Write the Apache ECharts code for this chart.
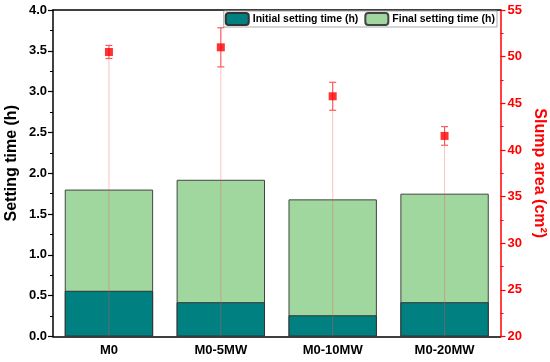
<!DOCTYPE html>
<html>
<head>
<meta charset="utf-8">
<script src="https://cdn.jsdelivr.net/npm/echarts@6/dist/echarts.min.js"></script>
<style>html,body{margin:0;padding:0;background:#fff}#c{width:550px;height:362px}</style>
</head>
<body>
<div id="c"></div>
<script>
var categories = ['M0', 'M0-5MW', 'M0-10MW', 'M0-20MW'];
var initialTime = [0.56, 0.42, 0.26, 0.42];
var finalTime = [1.80, 1.92, 1.68, 1.75];
var slumpArea = [50.5, 51.0, 45.75, 41.5];
var slumpErr = [0.7, 2.1, 1.5, 1.0];

var FONT = 'Arial, "Liberation Sans", sans-serif';
var chart = echarts.init(document.getElementById('c'));

var errData = categories.map(function (c, i) { return [i, slumpArea[i] - slumpErr[i], slumpArea[i] + slumpErr[i], slumpArea[i]]; });

chart.setOption({
  animation: false,
  grid: { left: 53, right: 49.5, top: 10, bottom: 25.5, containLabel: false, outerBoundsMode: 'none' },
  legend: {
    data: ['Initial setting time (h)', 'Final setting time (h)'],
    right: 53, top: 11,
    borderColor: '#aaa', borderWidth: 1, padding: [1, 2, 1, 1],
    itemWidth: 23, itemHeight: 12, itemGap: 6,
    textStyle: { fontFamily: FONT, fontWeight: 'bold', fontSize: 10.5, color: '#000', padding: [0, 0, 0, -1] },
    backgroundColor: '#fff'
  },
  xAxis: [{
    type: 'category', data: categories, position: 'bottom',
    axisLine: { lineStyle: { color: '#000', width: 1.5 } },
    axisTick: { alignWithLabel: true, length: 5, lineStyle: { color: '#000', width: 1.5 } },
    axisLabel: { fontFamily: FONT, fontWeight: 'bold', fontSize: 13, color: '#000', margin: 7 }
  }, {
    type: 'category', data: categories, position: 'top',
    axisLine: { lineStyle: { color: '#000', width: 1.5 } },
    axisTick: { show: false }, axisLabel: { show: false }
  }],
  yAxis: [{
    type: 'value', min: 0, max: 4, interval: 0.5, position: 'left',
    name: 'Setting time (h)', nameLocation: 'middle', nameGap: 33, nameMoveOverlap: false,
    nameTextStyle: { fontFamily: FONT, fontWeight: 'bold', fontSize: 16, color: '#000', padding: [0, 0, 0, 20] },
    axisLine: { show: true, lineStyle: { color: '#000', width: 1.5 } },
    axisTick: { show: true, length: 5, lineStyle: { color: '#000', width: 1.2 } },
    minorTick: { show: true, splitNumber: 2, length: 3, lineStyle: { color: '#000', width: 1 } },
    splitLine: { show: false },
    axisLabel: { fontFamily: FONT, fontWeight: 'bold', fontSize: 13, color: '#000', margin: 6,
      formatter: function (v) { return v.toFixed(1); } }
  }, {
    type: 'value', min: 20, max: 55, interval: 5, position: 'right',
    name: 'Slump area (cm²)', nameLocation: 'middle', nameGap: 31, nameRotate: -90, nameMoveOverlap: false,
    nameTextStyle: { fontFamily: FONT, fontWeight: 'bold', fontSize: 16, color: '#ff0000' },
    axisLine: { show: true, lineStyle: { color: '#ff0000', width: 1.5 } },
    axisTick: { show: true, length: 5, lineStyle: { color: '#ff0000', width: 1.2 } },
    minorTick: { show: true, splitNumber: 2, length: 3, lineStyle: { color: '#ff0000', width: 1 } },
    splitLine: { show: false },
    axisLabel: { fontFamily: FONT, fontWeight: 'bold', fontSize: 13, color: '#ff0000', margin: 7 }
  }],
  series: [{
    name: 'Final setting time (h)', type: 'bar', data: finalTime, barCategoryGap: '21%', barGap: '-100%',
    itemStyle: { color: '#9fd79f', borderColor: '#444', borderWidth: 1 }, z: 2
  }, {
    name: 'Initial setting time (h)', type: 'bar', data: initialTime, barCategoryGap: '21%', barGap: '-100%',
    itemStyle: { color: '#008080', borderColor: '#333', borderWidth: 1 }, z: 3
  }, {
    name: 'drop', type: 'custom', yAxisIndex: 1, data: errData, z: 4,
    renderItem: function (params, api) {
      var x = api.value(0);
      var lo = api.coord([x, api.value(1)]);
      var hi = api.coord([x, api.value(2)]);
      var base = api.coord([x, 20]);
      var w = 3.5;
      return {
        type: 'group', children: [
          { type: 'line', shape: { x1: lo[0], y1: lo[1], x2: base[0], y2: base[1] }, style: { stroke: 'rgba(255,80,80,0.35)', lineWidth: 1 } },
          { type: 'line', shape: { x1: hi[0], y1: hi[1], x2: lo[0], y2: lo[1] }, style: { stroke: '#ff5a5a', lineWidth: 1.2 } },
          { type: 'line', shape: { x1: hi[0] - w, y1: hi[1], x2: hi[0] + w, y2: hi[1] }, style: { stroke: '#ff5a5a', lineWidth: 1.2 } },
          { type: 'line', shape: { x1: lo[0] - w, y1: lo[1], x2: lo[0] + w, y2: lo[1] }, style: { stroke: '#ff5a5a', lineWidth: 1.2 } }
        ]
      };
    }
  }, {
    name: 'Slump area', type: 'scatter', yAxisIndex: 1, data: slumpArea, z: 5,
    symbol: 'rect', symbolSize: 8, itemStyle: { color: '#ff0000' }
  }]
});
</script>
</body>
</html>
